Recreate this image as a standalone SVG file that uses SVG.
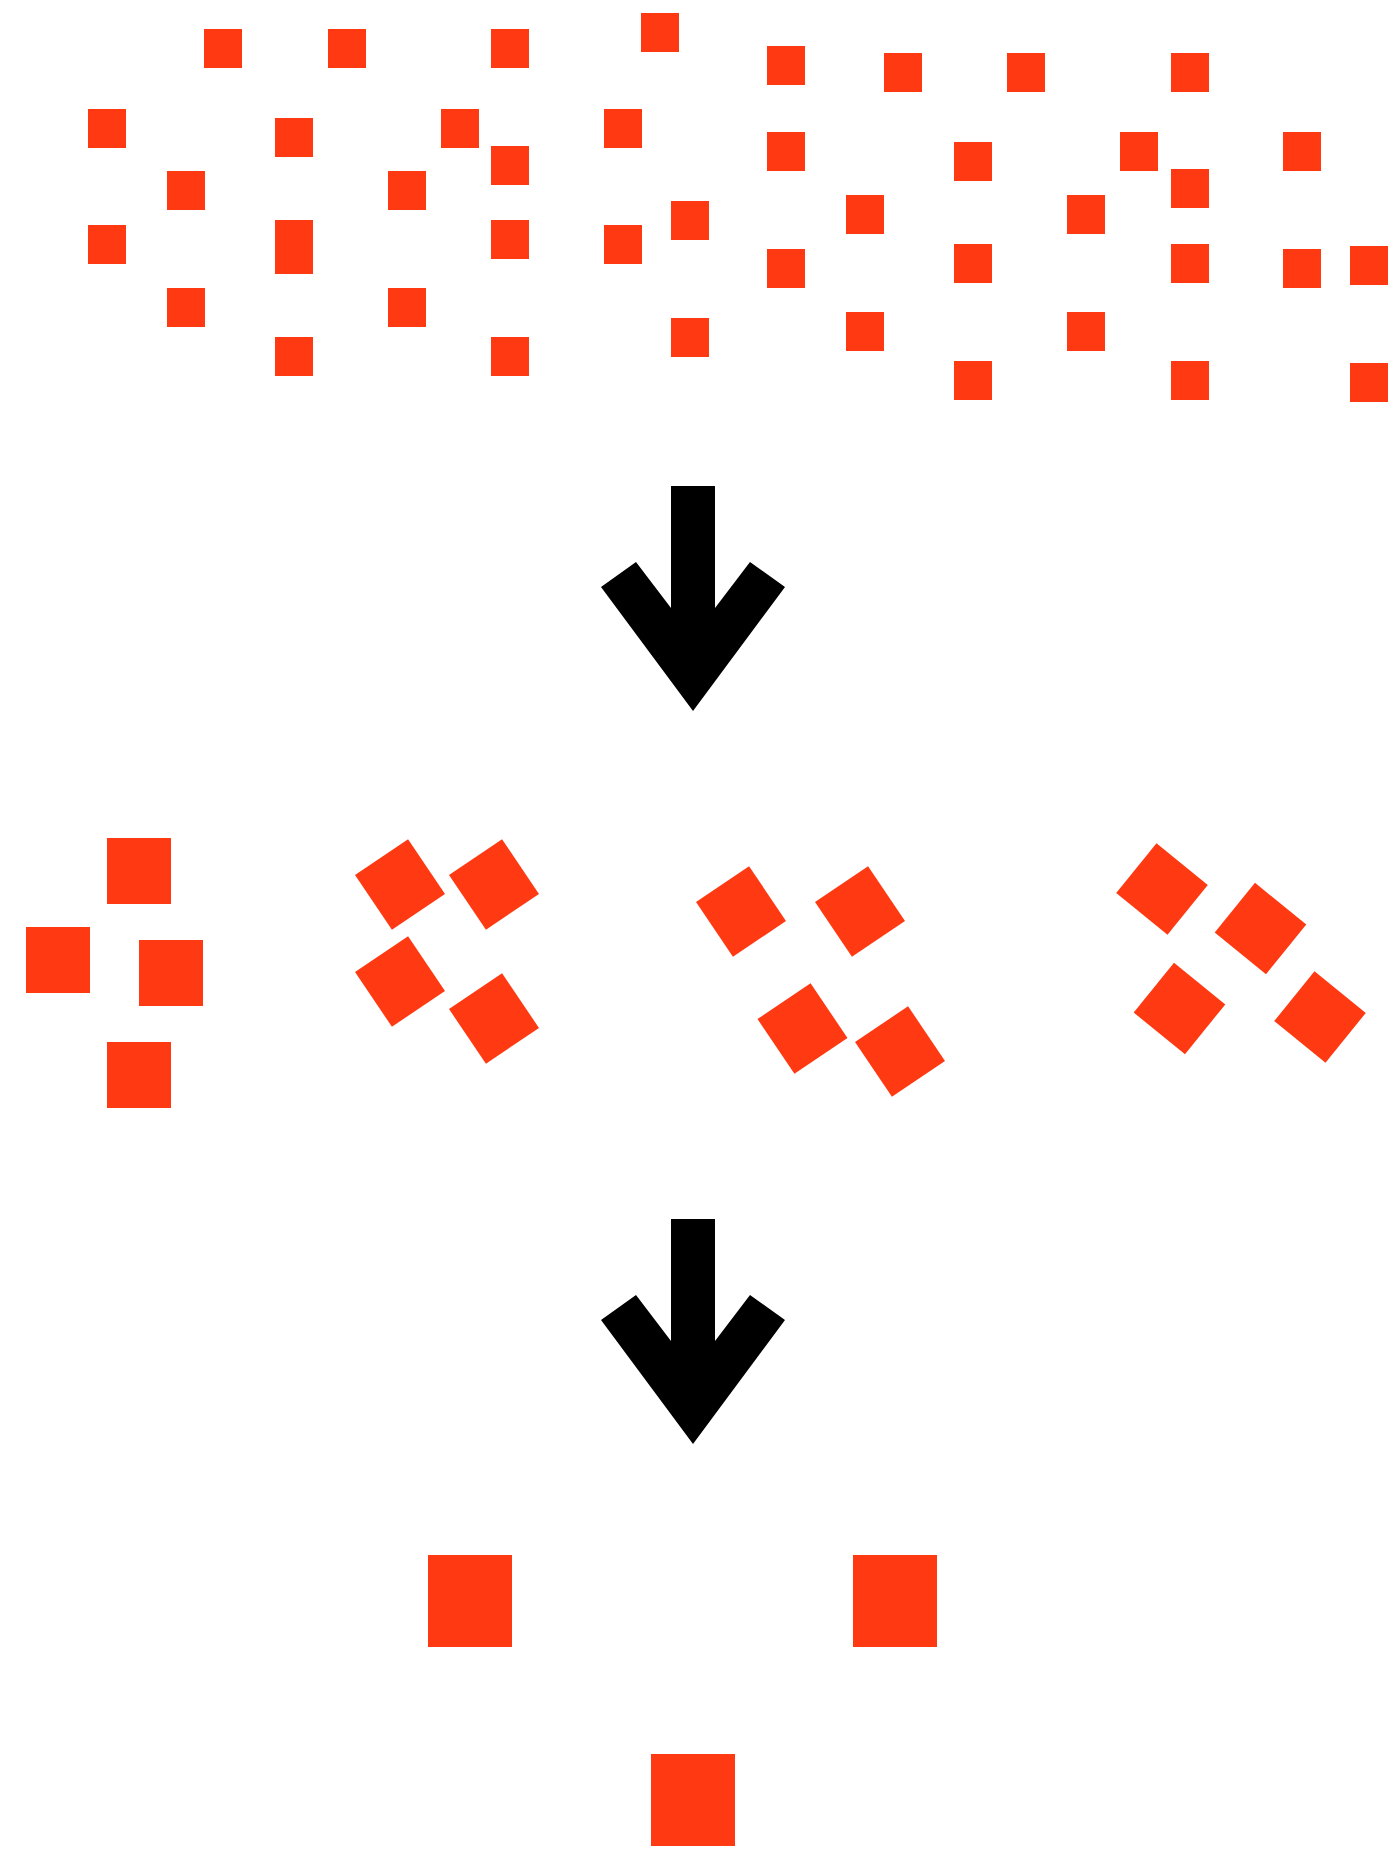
<svg xmlns="http://www.w3.org/2000/svg" width="1389" height="1854" viewBox="0 0 1389 1854">
<style>
.sq{fill:#ff3912}
.arrow{fill:#000}
</style>
<defs>
<rect id="s" width="38" height="39"/>
<rect id="m" x="-32" y="-33" width="64" height="66"/>
</defs>
<rect width="1389" height="1854" fill="#fff"/>
<g id="stage1-particles" class="sq">
<use href="#s" x="204" y="29"/><use href="#s" x="328" y="29"/><use href="#s" x="88" y="109"/>
<use href="#s" x="275" y="118"/><use href="#s" x="441" y="109"/><use href="#s" x="167" y="171"/>
<use href="#s" x="388" y="171"/><use href="#s" x="88" y="225"/><rect x="275" y="220" width="38" height="54"/>
<use href="#s" x="167" y="288"/><use href="#s" x="388" y="288"/><use href="#s" x="275" y="337"/>
<use href="#s" x="491" y="29"/><use href="#s" x="641" y="13"/><use href="#s" x="767" y="46"/>
<use href="#s" x="884" y="53"/><use href="#s" x="604" y="109"/><use href="#s" x="767" y="132"/>
<use href="#s" x="491" y="146"/><use href="#s" x="671" y="201"/><use href="#s" x="846" y="195"/>
<use href="#s" x="491" y="220"/><use href="#s" x="604" y="225"/><use href="#s" x="767" y="249"/>
<use href="#s" x="846" y="312"/><use href="#s" x="671" y="318"/><use href="#s" x="491" y="337"/>
<use href="#s" x="1007" y="53"/><use href="#s" x="1171" y="53"/><use href="#s" x="954" y="142"/>
<use href="#s" x="1120" y="132"/><use href="#s" x="1283" y="132"/><use href="#s" x="1171" y="169"/>
<use href="#s" x="1067" y="195"/><use href="#s" x="954" y="244"/><use href="#s" x="1171" y="244"/>
<use href="#s" x="1283" y="249"/><use href="#s" x="1350" y="246"/><use href="#s" x="1067" y="312"/>
<use href="#s" x="954" y="361"/><use href="#s" x="1171" y="361"/><use href="#s" x="1350" y="363"/>
</g>
<g id="arrows" class="arrow">
<path id="arrow1" d="M671,486 H715 V608 L750,562 L785,587 L693,711 L601,587 L636,562 L671,608 Z"/>
<path id="arrow2" d="M671,1219 H715 V1341 L750,1295 L785,1320 L693,1444 L601,1320 L636,1295 L671,1341 Z"/>
</g>
<g id="group1" class="sq">
<use href="#m" transform="translate(139,871)"/>
<use href="#m" transform="translate(58,960)"/>
<use href="#m" transform="translate(171,973)"/>
<use href="#m" transform="translate(139,1075)"/>
</g>
<g id="group2" class="sq">
<use href="#m" transform="translate(400,884.5) rotate(-34)"/>
<use href="#m" transform="translate(494,884.5) rotate(-34)"/>
<use href="#m" transform="translate(400,981.5) rotate(-34)"/>
<use href="#m" transform="translate(494,1018.5) rotate(-34)"/>
</g>
<g id="group3" class="sq">
<use href="#m" transform="translate(741,911.5) rotate(-34)"/>
<use href="#m" transform="translate(860,911.5) rotate(-34)"/>
<use href="#m" transform="translate(802.5,1028.5) rotate(-34)"/>
<use href="#m" transform="translate(900,1051.5) rotate(-34)"/>
</g>
<g id="group4" class="sq">
<use href="#m" transform="translate(1162,889) rotate(-51)"/>
<use href="#m" transform="translate(1260.5,928.5) rotate(-51)"/>
<use href="#m" transform="translate(1179.5,1008.5) rotate(-51)"/>
<use href="#m" transform="translate(1320,1017) rotate(-51)"/>
</g>
<g id="stage3-crystals" class="sq">
<rect x="428" y="1555" width="84" height="92"/>
<rect x="853" y="1555" width="84" height="92"/>
<rect x="651" y="1754" width="84" height="92"/>
</g>
</svg>
